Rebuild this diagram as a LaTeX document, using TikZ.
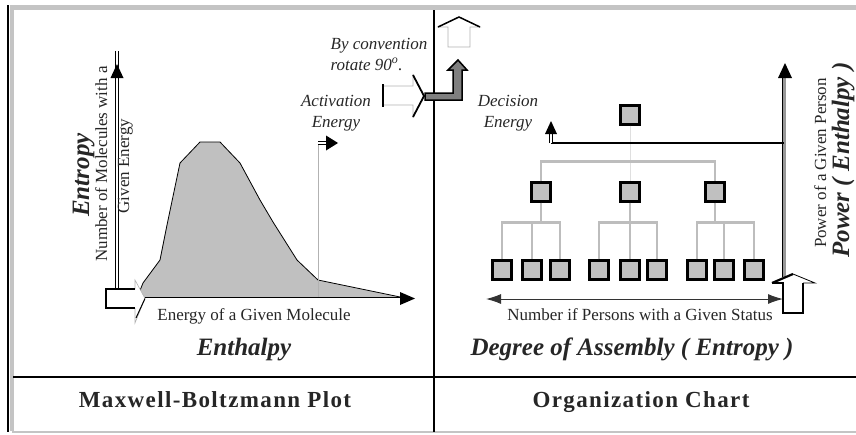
\documentclass[tikz,border=0pt]{standalone}
\usepackage{fontspec}
\setmainfont{Liberation Serif}
\usetikzlibrary{arrows.meta,positioning}
\definecolor{boxgray}{HTML}{C0C0C0}
\definecolor{treegray}{HTML}{BDBDBD}
\definecolor{framegray}{HTML}{C4C4C4}
\definecolor{bendgray}{HTML}{7F7F7F}

\begin{document}
\begin{tikzpicture}[x=1pt, y=-1pt,
    lbl/.style={font=\fontsize{17}{20}\selectfont, text=black!85, inner sep=0},
    ital/.style={font=\fontsize{17}{21}\selectfont\itshape, text=black!85, inner sep=0},
    bigit/.style={font=\fontsize{25}{28}\selectfont\bfseries\itshape, text=black!85, inner sep=0},
    title/.style={font=\fontsize{23}{26}\selectfont\bfseries\addfontfeatures{LetterSpace=6}, text=black!85, inner sep=0},
    orgbox/.style={rectangle, draw, fill=boxgray, line width=2.2, minimum size=19, inner sep=0},
    tree/.style={draw=treegray, line width=2.5},
    axis/.style={double, double distance=2, line width=0.9},
    thinaxis/.style={double, double distance=1.6, line width=0.8}]

    \useasboundingbox (0,0) rectangle (856,434);

    % frame
    \draw[framegray, line width=5] (10,7.5) -- (856,7.5);
    \draw[line width=2.5] (8,5) -- (8,432);
    \draw[framegray, line width=3.5] (12,10) -- (12,431);
    \draw[framegray, line width=2] (12,432) -- (856,432);
    \draw[line width=2.5] (13,377) -- (856,377);
    \draw[line width=2.5] (434,10) -- (434,432);

    % Maxwell-Boltzmann curve
    \filldraw[fill=boxgray, line width=0.8] (137,298) -- (143,283) -- (160,260) -- (167,225)
        -- (180,163) -- (200,142) -- (220,142) -- (240,163) -- (260,200) -- (273,222)
        -- (297,260) -- (318,280) -- (405,298) -- cycle;

    % activation marker
    \coordinate (actfoot) at (318,298);
    \coordinate (acttop) at (318,143);
    \draw[gray!60, line width=0.7] (actfoot) -- (acttop);
    \draw[thinaxis] (acttop) -- ++(9,0);
    \fill (338,143) -- ++(-12,-7.5) -- ++(0,15) -- cycle;

    % axes
    \coordinate (origin) at (117,289);
    \coordinate (ytip) at (117,64);
    \coordinate (xstart) at (145,298.5);
    \coordinate (xtip) at (415,298.5);
    \draw[axis] (origin) -- ([yshift=13]ytip);
    \fill (ytip) -- ++(-6.5,14) -- ++(13,0) -- cycle;
    \draw[axis] (xstart) -- ([xshift=-14]xtip);
    \fill (xtip) -- ++(-15,-6.5) -- ++(0,13) -- cycle;

    % open arrow at the origin
    \draw[gray!60, line width=0.6, fill=white] (135,289) -- (135,280) -- (xstart) -- (135,323) -- (135,308);
    \draw[line width=2.2] (135,289) -- (106,289) -- (106,308) -- (135,308);
    \draw[line width=1] (xstart) -- (136,318);

    % rotate 90 arrows
    \draw[gray!60, line width=0.6, fill=white] (383,86) -- (413,86) -- (413,75) -- (424,96)
        -- (413,117) -- (413,105) -- (383,105) -- cycle;
    \draw[line width=2.2] (383,84) -- (383,107);
    \draw[line width=1.8] (413,75) -- (424,96) -- (413,117);
    \filldraw[fill=bendgray, line width=1.5] (425,93) -- (453,93) -- (453,70) -- (448,70)
        -- (458,60) -- (467,70) -- (462,70) -- (462,100) -- (425,100) -- cycle;
    \draw[gray!60, line width=0.6, fill=white] (448,47) -- (448,27) -- (438,27) -- (459,17)
        -- (480,27) -- (470,27) -- (470,47) -- cycle;
    \draw[line width=1.5] (438,27) -- (459,17) -- (480,27);

    % labels, left
    \node[lbl, anchor=base] (xlab) at (254,320) {Energy of a Given Molecule};
    \node[bigit, anchor=base] (enth) at (244,355) {Enthalpy};
    \node[lbl, rotate=90, anchor=base] (ylab) at (107,164) {Number of Molecules with a};
    \node[lbl, rotate=90, anchor=base] (ylab2) at (129,166) {Given Energy};
    \node[bigit, rotate=90, anchor=base] (entr) at (89,175) {Entropy};
    \node[ital, align=center] (actlab) at (336,113) {Activation\\Energy};
    \node[ital, align=left] (conv) at (379,54) {By convention\\rotate 90\textsuperscript{o}.};
    \node[title, anchor=base] (mbt) at (215,407) {Maxwell-Boltzmann Plot};

    % organization chart
    \node[orgbox] (ceo) at (630,115) {};
    \node[orgbox] (m1) at (541,192) {};
    \node[orgbox] (m2) at (630,192) {};
    \node[orgbox] (m3) at (715,192) {};
    \node[orgbox] (b1) at (502,270) {};
    \node[orgbox] (b2) at (532,270) {};
    \node[orgbox] (b3) at (560,270) {};
    \node[orgbox] (b4) at (599,270) {};
    \node[orgbox] (b5) at (630,270) {};
    \node[orgbox] (b6) at (657,270) {};
    \node[orgbox] (b7) at (697,270) {};
    \node[orgbox] (b8) at (724,270) {};
    \node[orgbox] (b9) at (754,270) {};

    \draw[gray!25, line width=0.8] (ceo) -- (m2);
    \draw[tree] (m1.north) -- ++(0,-20) -| (m3.north);
    \draw[tree] (m1.south) -- ++(0,20) coordinate (j1);
    \draw[tree] (m2.south) -- ++(0,20) coordinate (j2);
    \draw[tree] (m3.south) -- ++(0,20) coordinate (j3);
    \draw[tree] (b1.north) |- (j1) -| (b3.north);
    \draw[tree] (j1) -| (b2.north);
    \draw[tree] (b4.north) |- (j2) -| (b6.north);
    \draw[tree] (j2) -- (b5.north);
    \draw[tree] (b7.north) |- (j3) -| (b9.north);
    \draw[tree] (j3) -| (b8.north);

    % power axis
    \coordinate (pbot) at (784,277);
    \coordinate (ptop) at (785,63);
    \coordinate (pjoin) at (784,143);
    \coordinate (dec) at (551,143);
    \draw[line width=3, bendgray!80] (pbot) -- (784,77);
    \draw[line width=0.8] (782.5,277) -- (782.5,77);
    \fill (ptop) -- ++(-7,15) -- ++(14,0) -- cycle;
    \draw[line width=2] (pjoin) -- (dec);
    \draw[thinaxis] (dec) -- ++(0,-10);
    \fill (551,121) -- ++(-6,13) -- ++(12,0) -- cycle;

    % status axis
    \coordinate (sl) at (486,299);
    \coordinate (sr) at (783,299);
    \draw[{Latex[length=15,width=10]}-{Latex[length=15,width=10]}, line width=1, black!80] (sl) -- (sr);

    % open arrow at the power axis
    \draw[line width=0.8] (793,274) -- (815,283) -- (803,283);
    \draw[line width=2.2] (772,283) -- (793,274);
    \draw[line width=2.2] (772,283) -- (783,283) -- (783,313) -- (803,313) -- (803,283);

    % labels, right
    \node[ital, align=center] (declab) at (508,113) {Decision\\Energy};
    \node[lbl, anchor=base] (slab) at (640,320) {Number if Persons with a Given Status};
    \node[bigit, anchor=base] (deg) at (632,355) {Degree of Assembly ( Entropy )};
    \node[lbl, rotate=90, anchor=base] (plab) at (826,163) {Power of a Given Person};
    \node[bigit, rotate=90, anchor=base] (pow) at (849,160) {Power ( Enthalpy )};
    \node[title, anchor=base] (oct) at (641,407) {Organization Chart};
\end{tikzpicture}
\end{document}
